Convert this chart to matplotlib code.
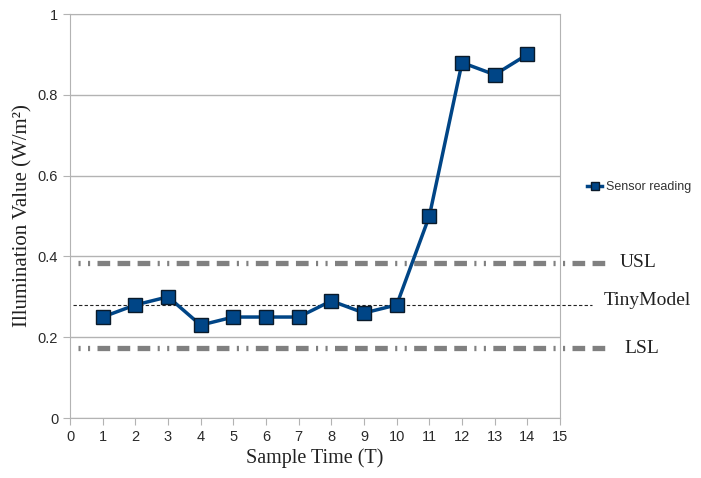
#!/usr/bin/env python3
"""Sensor reading vs. sample time with USL / LSL / TinyModel reference lines."""
import matplotlib
matplotlib.use("Agg")
import matplotlib.pyplot as plt

# data
sample_time = [1, 2, 3, 4, 5, 6, 7, 8, 9, 10, 11, 12, 13, 14]
sensor_reading = [0.25, 0.28, 0.30, 0.23, 0.25, 0.25, 0.25, 0.29, 0.26, 0.28,
                  0.50, 0.88, 0.85, 0.90]
usl_value = 0.385
lsl_value = 0.173
tiny_model_value = 0.28
limit_labels = ["USL", "TinyModel", "LSL"]

BLUE = "#004586"
GREY = "#808080"
SERIF = ["Liberation Serif", "DejaVu Serif"]
SANS = ["Liberation Sans", "DejaVu Sans"]

fig = plt.figure(figsize=(7.01, 4.78), dpi=100)
ax = fig.add_axes([0.0999, 0.1255, 0.699, 0.845])

ax.set_xlim(0, 15)
ax.set_ylim(0, 1)
ax.set_xticks(range(0, 16))
ax.set_yticks([0, 0.2, 0.4, 0.6, 0.8, 1])
ax.set_yticklabels(["0", "0.2", "0.4", "0.6", "0.8", "1"])
ax.yaxis.grid(True, color="#b3b3b3", lw=1)
ax.set_axisbelow(True)
for s in ax.spines.values():
    s.set_color("#b3b3b3")
ax.tick_params(direction="out", length=5, color="#b3b3b3", labelsize=10.5,
               labelcolor="#2a2a2a")
for lab in ax.get_xticklabels() + ax.get_yticklabels():
    lab.set_family(SANS)

# limit lines extend beyond the plot frame
dash = (0.4, 1.4, 0.4, 1.4, 2.4, 1.4, 2.4, 1.4, 2.4, 1.4)
for yv in (usl_value, lsl_value):
    ln, = ax.plot([0.25, 16.5], [yv, yv], color=GREY, lw=3.8,
                  solid_capstyle="butt", clip_on=False, zorder=2)
    ln.set_dashes(dash)
    ln.set_dash_capstyle("butt")
ax.plot([0.09, 15.98], [tiny_model_value] * 2, color="#222222", lw=0.8,
        linestyle=(0, (3, 2)), clip_on=False, zorder=2)

ax.plot(sample_time, sensor_reading, color=BLUE, lw=2.5, marker="s",
        markersize=10, markerfacecolor=BLUE, markeredgecolor="#0a1a2a",
        markeredgewidth=1.0, label="Sensor reading", zorder=4, clip_on=False)

ax.text(16.84, usl_value, limit_labels[0], family=SERIF, fontsize=14,
        va="center", ha="left", color="#222222")
ax.text(16.35, tiny_model_value + 0.01, limit_labels[1], family=SERIF,
        fontsize=14, va="center", ha="left", color="#222222")
ax.text(16.96, lsl_value, limit_labels[2], family=SERIF, fontsize=14,
        va="center", ha="left", color="#222222")

ax.set_xlabel("Sample Time (T)", family=SERIF, fontsize=14.5, color="#222222",
              labelpad=3)
ax.set_ylabel("Illumination Value (W/m²)", family=SERIF, fontsize=15,
              color="#222222", labelpad=4)

leg = fig.legend(loc="center left", bbox_to_anchor=(0.822, 0.609),
                 frameon=False, prop={"family": SANS, "size": 9},
                 handlelength=1.2, handletextpad=0.3, markerscale=0.6)
for t in leg.get_texts():
    t.set_color("#333333")

fig.savefig("out.png", dpi=100)
